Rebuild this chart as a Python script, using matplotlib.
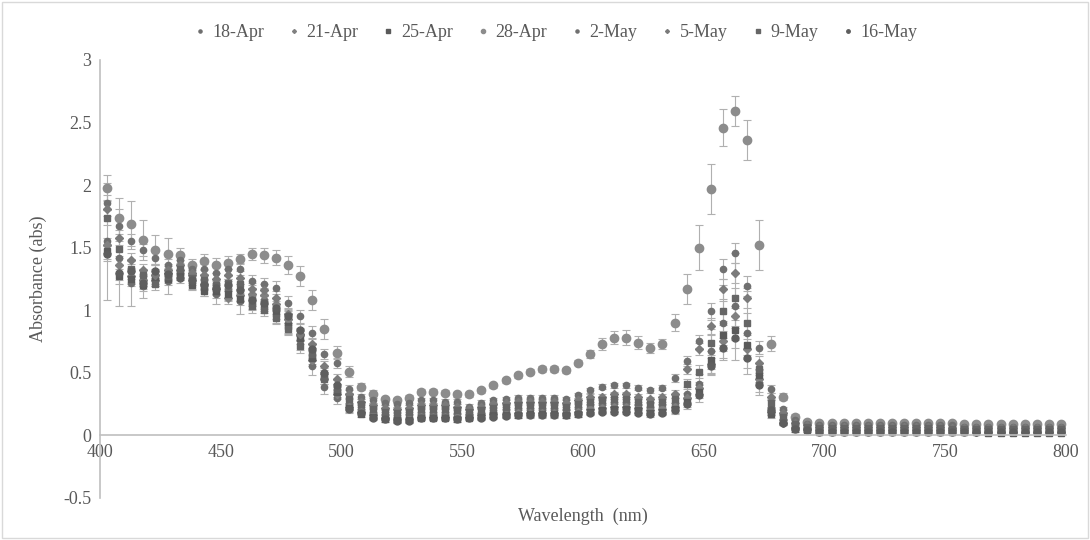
import matplotlib
matplotlib.use('Agg')
import matplotlib.pyplot as plt
from matplotlib.patches import Rectangle
import numpy as np

plt.rcParams['font.family'] = ['Liberation Serif', 'DejaVu Serif']

# wavelengths 403..798 nm every 5 nm
wavelength = list(range(403, 800, 5))

labels = ['18-Apr', '21-Apr', '25-Apr', '28-Apr', '2-May', '5-May', '9-May', '16-May']

s_28apr = [1.98, 1.74, 1.69, 1.56, 1.48, 1.45, 1.44, 1.36, 1.39, 1.36,
           1.38, 1.41, 1.45, 1.44, 1.42, 1.36, 1.27, 1.08, 0.85, 0.66,
           0.51, 0.39, 0.33, 0.29, 0.28, 0.30, 0.35, 0.35, 0.34, 0.33,
           0.33, 0.36, 0.40, 0.44, 0.48, 0.51, 0.53, 0.53, 0.52, 0.58,
           0.65, 0.73, 0.78, 0.78, 0.74, 0.70, 0.73, 0.90, 1.17, 1.50,
           1.97, 2.46, 2.59, 2.36, 1.52, 0.73, 0.31, 0.15, 0.11, 0.10,
           0.10, 0.10, 0.10, 0.10, 0.10, 0.10, 0.10, 0.10, 0.10, 0.10,
           0.10, 0.09, 0.09, 0.09, 0.09, 0.09, 0.09, 0.09, 0.09, 0.09]
s_2may = [1.86, 1.67, 1.55, 1.48, 1.42, 1.36, 1.40, 1.33, 1.33, 1.30,
          1.33, 1.33, 1.23, 1.21, 1.18, 1.06, 0.95, 0.82, 0.65, 0.58,
          0.37, 0.31, 0.28, 0.26, 0.25, 0.26, 0.28, 0.28, 0.27, 0.27,
          0.23, 0.26, 0.28, 0.29, 0.30, 0.30, 0.30, 0.30, 0.29, 0.32,
          0.36, 0.39, 0.40, 0.40, 0.38, 0.36, 0.38, 0.46, 0.59, 0.75,
          0.99, 1.33, 1.46, 1.19, 0.70, 0.37, 0.21, 0.12, 0.09, 0.08,
          0.08, 0.08, 0.08, 0.08, 0.08, 0.08, 0.08, 0.08, 0.08, 0.08,
          0.08, 0.07, 0.07, 0.07, 0.07, 0.07, 0.07, 0.07, 0.07, 0.07]
s_5may = [1.81, 1.58, 1.40, 1.32, 1.28, 1.32, 1.36, 1.30, 1.28, 1.25,
          1.28, 1.26, 1.17, 1.16, 1.10, 0.97, 0.81, 0.73, 0.55, 0.45,
          0.33, 0.27, 0.24, 0.22, 0.21, 0.22, 0.24, 0.24, 0.24, 0.23,
          0.21, 0.23, 0.25, 0.26, 0.27, 0.27, 0.27, 0.27, 0.26, 0.28,
          0.31, 0.31, 0.33, 0.33, 0.31, 0.29, 0.31, 0.33, 0.53, 0.69,
          0.87, 1.17, 1.30, 1.10, 0.58, 0.31, 0.18, 0.10, 0.08, 0.07,
          0.07, 0.07, 0.07, 0.07, 0.07, 0.07, 0.07, 0.07, 0.07, 0.07,
          0.06, 0.06, 0.06, 0.06, 0.06, 0.06, 0.06, 0.06, 0.06, 0.06]
s_9may = [1.74, 1.49, 1.33, 1.28, 1.21, 1.27, 1.33, 1.26, 1.24, 1.20,
          1.22, 1.21, 1.03, 1.00, 0.94, 0.85, 0.71, 0.65, 0.45, 0.37,
          0.29, 0.25, 0.21, 0.19, 0.18, 0.19, 0.21, 0.21, 0.21, 0.20,
          0.19, 0.20, 0.22, 0.23, 0.24, 0.24, 0.24, 0.24, 0.23, 0.25,
          0.27, 0.28, 0.29, 0.29, 0.27, 0.25, 0.27, 0.29, 0.41, 0.51,
          0.74, 0.99, 1.10, 0.90, 0.53, 0.26, 0.15, 0.09, 0.07, 0.06,
          0.06, 0.06, 0.06, 0.06, 0.06, 0.06, 0.06, 0.06, 0.06, 0.06,
          0.05, 0.05, 0.05, 0.05, 0.05, 0.05, 0.05, 0.05, 0.05, 0.05]
s_18apr = [1.55, 1.42, 1.22, 1.19, 1.28, 1.23, 1.30, 1.23, 1.18, 1.13,
           1.16, 1.07, 1.10, 1.08, 1.00, 0.90, 0.76, 0.55, 0.39, 0.30,
           0.25, 0.21, 0.18, 0.16, 0.15, 0.16, 0.18, 0.18, 0.18, 0.17,
           0.17, 0.18, 0.19, 0.20, 0.21, 0.21, 0.21, 0.21, 0.20, 0.22,
           0.24, 0.25, 0.26, 0.26, 0.24, 0.23, 0.24, 0.26, 0.33, 0.41,
           0.67, 0.90, 1.03, 0.82, 0.42, 0.22, 0.12, 0.07, 0.06, 0.05,
           0.05, 0.05, 0.05, 0.05, 0.05, 0.05, 0.05, 0.05, 0.05, 0.05,
           0.05, 0.04, 0.04, 0.04, 0.04, 0.04, 0.04, 0.04, 0.04, 0.04]
s_21apr = [1.52, 1.36, 1.27, 1.24, 1.24, 1.30, 1.32, 1.28, 1.21, 1.17,
           1.10, 1.12, 1.13, 1.12, 1.05, 0.93, 0.80, 0.60, 0.45, 0.33,
           0.23, 0.19, 0.16, 0.14, 0.13, 0.13, 0.15, 0.15, 0.15, 0.15,
           0.15, 0.16, 0.17, 0.17, 0.18, 0.18, 0.18, 0.18, 0.18, 0.19,
           0.21, 0.22, 0.23, 0.23, 0.22, 0.20, 0.21, 0.23, 0.30, 0.38,
           0.57, 0.75, 0.95, 0.69, 0.45, 0.19, 0.10, 0.06, 0.05, 0.04,
           0.04, 0.04, 0.04, 0.04, 0.04, 0.04, 0.04, 0.04, 0.04, 0.04,
           0.04, 0.04, 0.03, 0.03, 0.03, 0.03, 0.03, 0.03, 0.03, 0.03]
s_25apr = [1.47, 1.27, 1.25, 1.20, 1.26, 1.25, 1.28, 1.20, 1.15, 1.15,
           1.13, 1.09, 1.06, 1.04, 0.98, 0.87, 0.78, 0.62, 0.48, 0.35,
           0.22, 0.17, 0.15, 0.13, 0.12, 0.12, 0.14, 0.14, 0.14, 0.13,
           0.14, 0.15, 0.16, 0.16, 0.16, 0.17, 0.17, 0.17, 0.16, 0.17,
           0.19, 0.20, 0.21, 0.21, 0.20, 0.18, 0.19, 0.21, 0.27, 0.35,
           0.60, 0.80, 0.84, 0.72, 0.48, 0.17, 0.11, 0.05, 0.04, 0.03,
           0.03, 0.03, 0.03, 0.03, 0.03, 0.03, 0.03, 0.03, 0.03, 0.03,
           0.03, 0.03, 0.03, 0.02, 0.02, 0.02, 0.02, 0.02, 0.02, 0.02]
s_16may = [1.45, 1.30, 1.31, 1.22, 1.31, 1.29, 1.26, 1.24, 1.20, 1.18,
           1.20, 1.16, 1.08, 1.06, 1.02, 0.95, 0.84, 0.69, 0.50, 0.40,
           0.21, 0.18, 0.14, 0.13, 0.115, 0.115, 0.14, 0.14, 0.14, 0.13,
           0.14, 0.14, 0.15, 0.155, 0.16, 0.16, 0.16, 0.16, 0.16, 0.17,
           0.18, 0.19, 0.19, 0.19, 0.18, 0.17, 0.18, 0.20, 0.25, 0.32,
           0.55, 0.70, 0.78, 0.62, 0.40, 0.20, 0.10, 0.05, 0.04, 0.03,
           0.03, 0.03, 0.03, 0.03, 0.03, 0.03, 0.03, 0.03, 0.03, 0.03,
           0.03, 0.03, 0.03, 0.03, 0.03, 0.03, 0.03, 0.03, 0.03, 0.03]

# standard deviations
err_big = [0.10, 0.16, 0.18, 0.16, 0.12, 0.13, 0.06, 0.05, 0.06, 0.06,
           0.05, 0.04, 0.05, 0.06, 0.06, 0.07, 0.08, 0.08, 0.08, 0.05,
           0.04, 0.03, 0.03, 0.02, 0.02, 0.02, 0.02, 0.02, 0.02, 0.02,
           0.02, 0.02, 0.02, 0.02, 0.02, 0.02, 0.02, 0.02, 0.02, 0.02,
           0.03, 0.05, 0.05, 0.06, 0.05, 0.04, 0.04, 0.07, 0.12, 0.18,
           0.20, 0.15, 0.12, 0.16, 0.20, 0.06, 0.03, 0.02, 0.01, 0.01,
           0.01, 0.01, 0.01, 0.01, 0.01, 0.01, 0.01, 0.01, 0.01, 0.01,
           0.01, 0.01, 0.01, 0.01, 0.01, 0.01, 0.01, 0.01, 0.01, 0.01]
err_wide = [0.47, 0.39, 0.19, 0.09, 0.09, 0.10, 0.06, 0.06, 0.07, 0.08,
            0.09, 0.10, 0.10, 0.10, 0.10, 0.09, 0.08, 0.07, 0.06, 0.05,
            0.04, 0.03, 0.03, 0.03, 0.03, 0.03, 0.03, 0.03, 0.03, 0.03,
            0.03, 0.03, 0.03, 0.03, 0.03, 0.03, 0.03, 0.03, 0.03, 0.03,
            0.03, 0.03, 0.03, 0.03, 0.03, 0.03, 0.03, 0.04, 0.06, 0.08,
            0.18, 0.30, 0.43, 0.33, 0.10, 0.06, 0.04, 0.02, 0.01, 0.01,
            0.01, 0.01, 0.01, 0.01, 0.01, 0.01, 0.01, 0.01, 0.01, 0.01,
            0.01, 0.01, 0.01, 0.01, 0.01, 0.01, 0.01, 0.01, 0.01, 0.01]
err_small = [0.06, 0.06, 0.06, 0.05, 0.05, 0.05, 0.04, 0.04, 0.04, 0.05,
             0.05, 0.05, 0.05, 0.05, 0.05, 0.05, 0.05, 0.05, 0.04, 0.04,
             0.03, 0.02, 0.02, 0.02, 0.02, 0.02, 0.02, 0.02, 0.02, 0.02,
             0.02, 0.02, 0.02, 0.02, 0.02, 0.02, 0.02, 0.02, 0.02, 0.02,
             0.02, 0.02, 0.02, 0.02, 0.02, 0.02, 0.02, 0.03, 0.04, 0.05,
             0.07, 0.08, 0.08, 0.08, 0.05, 0.03, 0.02, 0.02, 0.01, 0.01,
             0.01, 0.01, 0.01, 0.01, 0.01, 0.01, 0.01, 0.01, 0.01, 0.01,
             0.01, 0.01, 0.01, 0.01, 0.01, 0.01, 0.01, 0.01, 0.01, 0.01]

series = [s_18apr, s_21apr, s_25apr, s_28apr, s_2may, s_5may, s_9may, s_16may]
errors = [err_wide, err_small, err_small, err_big, err_small, err_small, err_small, err_small]
markers = ['o', 'D', 's', 'o', 'o', 'D', 's', 'o']
sizes = [4.5, 4, 4.5, 6, 4.5, 4, 4.5, 5]
colors = ['#6e6e6e', '#808080', '#5a5a5a', '#8c8c8c', '#707070', '#7a7a7a', '#666666', '#5e5e5e']

fig = plt.figure(figsize=(10.9, 5.4), dpi=100)
ax = fig.add_axes([0.0917, 0.078, 0.886, 0.811])

for lab, vals, err, m, ms, c in zip(labels, series, errors, markers, sizes, colors):
    ax.errorbar(wavelength, vals, yerr=err, fmt=m, ms=ms, color=c, mec=c,
                ecolor='#b0b0b0', elinewidth=0.8, capsize=3, capthick=0.8,
                label=lab)

ax.set_xlim(400, 800)
ax.set_ylim(-0.5, 3)
ax.set_xticks(np.arange(400, 801, 50))
ax.set_yticks(np.arange(-0.5, 3.01, 0.5))
ax.set_yticklabels(['-0.5', '0', '0.5', '1', '1.5', '2', '2.5', '3'])

for s in ['top', 'right']:
    ax.spines[s].set_visible(False)
ax.spines['bottom'].set_position(('data', 0))
ax.spines['bottom'].set_color('#bfbfbf')
ax.spines['left'].set_color('#bfbfbf')
ax.spines['bottom'].set_linewidth(1.2)
ax.spines['left'].set_linewidth(1.2)
ax.tick_params(length=0, labelsize=13, colors='#595959', pad=6)

ax.set_xlabel('Wavelength  (nm)', fontsize=13, color='#595959', labelpad=34)
ax.set_ylabel('Absorbance (abs)', fontsize=13, color='#595959', labelpad=12)

handles, labs = ax.get_legend_handles_labels()
handles = [h[0] for h in handles]
leg = fig.legend(handles, labs, loc='upper center', bbox_to_anchor=(0.51, 0.985),
                 ncol=8, frameon=False, fontsize=13, handlelength=0.6,
                 handletextpad=0.4, columnspacing=1.35, markerscale=0.5)
for t in leg.get_texts():
    t.set_color('#595959')

fig.patches.append(Rectangle((0.002, 0.003), 0.996, 0.994, transform=fig.transFigure,
                             fill=False, edgecolor='#d9d9d9', lw=1))

fig.savefig('out.png', dpi=100)
